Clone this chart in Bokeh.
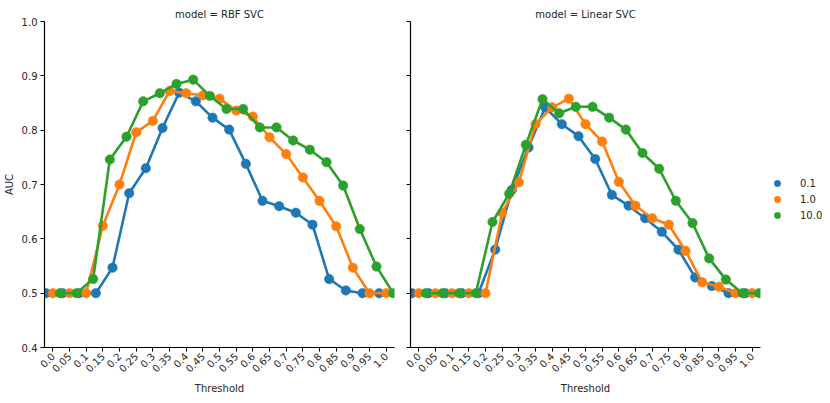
import math
from bokeh.plotting import figure
from bokeh.layouts import row
from bokeh.models import Range1d, FixedTicker, Legend, LegendItem, ColumnDataSource
from bokeh.embed import file_html
from bokeh.resources import INLINE

thresholds = ["0.0", "0.05", "0.1", "0.15", "0.2", "0.25", "0.3", "0.35", "0.4", "0.45",
              "0.5", "0.55", "0.6", "0.65", "0.7", "0.75", "0.8", "0.85", "0.9", "0.95", "1.0"]
c_levels = ["0.1", "1.0", "10.0"]
models = ["RBF SVC", "Linear SVC"]
y_ticks = [0.4, 0.5, 0.6, 0.7, 0.8, 0.9, 1.0]
y_labels = ["0.4", "0.5", "0.6", "0.7", "0.8", "0.9", "1.0"]

rbf_c01 = [0.5, 0.5, 0.5, 0.5, 0.547, 0.684, 0.730, 0.804, 0.869, 0.853, 0.823,
           0.801, 0.738, 0.670, 0.660, 0.648, 0.626, 0.526, 0.505, 0.5, 0.5]
rbf_c1 = [0.5, 0.5, 0.5, 0.624, 0.700, 0.796, 0.817, 0.872, 0.868, 0.864, 0.858,
          0.836, 0.825, 0.787, 0.756, 0.713, 0.670, 0.623, 0.547, 0.5, 0.5]
rbf_c10 = [0.5, 0.5, 0.526, 0.746, 0.788, 0.853, 0.868, 0.885, 0.893, 0.863, 0.839,
           0.839, 0.805, 0.805, 0.781, 0.764, 0.741, 0.698, 0.618, 0.549, 0.5]
lin_c01 = [0.5, 0.5, 0.5, 0.5, 0.5, 0.580, 0.690, 0.768, 0.842, 0.811, 0.789,
           0.747, 0.681, 0.661, 0.638, 0.613, 0.580, 0.529, 0.513, 0.5, 0.5]
lin_c1 = [0.5, 0.5, 0.5, 0.5, 0.5, 0.648, 0.704, 0.811, 0.842, 0.858, 0.811,
          0.779, 0.705, 0.661, 0.638, 0.626, 0.578, 0.520, 0.512, 0.5, 0.5]
lin_c10 = [0.5, 0.5, 0.5, 0.5, 0.631, 0.683, 0.773, 0.857, 0.831, 0.843, 0.843,
           0.823, 0.801, 0.758, 0.729, 0.670, 0.629, 0.564, 0.525, 0.5, 0.5]

series = {
    "RBF SVC": [rbf_c01, rbf_c1, rbf_c10],
    "Linear SVC": [lin_c01, lin_c1, lin_c10],
}

colors = ["#1f77b4", "#ff7f0e", "#2ca02c"]
dodge = [-0.42, 0.0, 0.42]
FONT = "DejaVu Sans"


def make_panel(model, first):
    p = figure(
        output_backend="svg", toolbar_location=None,
        frame_width=350, frame_height=326,
        x_range=Range1d(-0.5, len(thresholds) - 0.5),
        y_range=Range1d(0.4, 1.0),
        min_border_left=38 if first else 7,
        min_border_right=9 if first else 58,
        min_border_top=21, min_border_bottom=0,
    )
    p.title.text = "model = " + model
    p.title.align = "center"
    p.title.text_font = FONT
    p.title.text_font_size = "10px"
    p.title.text_font_style = "normal"
    p.title.text_color = "#262626"
    p.title.standoff = 4
    p.outline_line_color = None
    p.grid.visible = False
    p.background_fill_color = "white"
    p.border_fill_color = "white"

    xs_idx = list(range(len(thresholds)))
    p.xaxis.ticker = FixedTicker(ticks=xs_idx)
    p.xaxis.major_label_overrides = {i: t for i, t in zip(xs_idx, thresholds)}
    p.xaxis.major_label_orientation = math.pi / 4
    p.xaxis.axis_label = "Threshold"
    p.yaxis.ticker = FixedTicker(ticks=y_ticks)
    if first:
        p.yaxis.major_label_overrides = {v: l for v, l in zip(y_ticks, y_labels)}
        p.yaxis.axis_label = "AUC"
    else:
        p.yaxis.major_label_overrides = {v: "" for v in y_ticks}
    for ax in (p.xaxis, p.yaxis):
        ax.axis_line_color = "black"
        ax.axis_line_width = 1.2
        ax.major_tick_line_color = "black"
        ax.major_tick_out = 4
        ax.major_tick_in = 0
        ax.minor_tick_line_color = None
        ax.major_label_text_font = FONT
        ax.major_label_text_font_size = "10px"
        ax.major_label_text_color = "#262626"
        ax.axis_label_text_font = FONT
        ax.axis_label_text_font_size = "10px"
        ax.axis_label_text_font_style = "normal"
        ax.axis_label_text_color = "#262626"
        ax.major_label_standoff = 3
        ax.axis_label_standoff = 4

    scatters = []
    for k, vals in enumerate(series[model]):
        src = ColumnDataSource(dict(x=[i + dodge[k] for i in xs_idx], y=vals))
        p.line("x", "y", source=src, line_color=colors[k], line_width=2.6)
        s = p.scatter("x", "y", source=src, size=9.5, fill_color=colors[k],
                      line_color=colors[k], line_width=0.5)
        scatters.append(s)
    return p, scatters


p1, _ = make_panel(models[0], True)
p2, sc = make_panel(models[1], False)

legend = Legend(items=[LegendItem(label=c, renderers=[r]) for c, r in zip(c_levels, sc)],
                location=(9, 124))
legend.border_line_color = None
legend.background_fill_alpha = 0
legend.label_text_font = FONT
legend.label_text_font_size = "10px"
legend.label_text_color = "#262626"
legend.glyph_width = 16
legend.glyph_height = 16
legend.label_height = 16
legend.spacing = 0
legend.padding = 0
legend.label_standoff = 15
legend.margin = 0
p2.add_layout(legend, "right")

layout = row(p1, p2)
open("out.html", "w").write(file_html(layout, INLINE))
